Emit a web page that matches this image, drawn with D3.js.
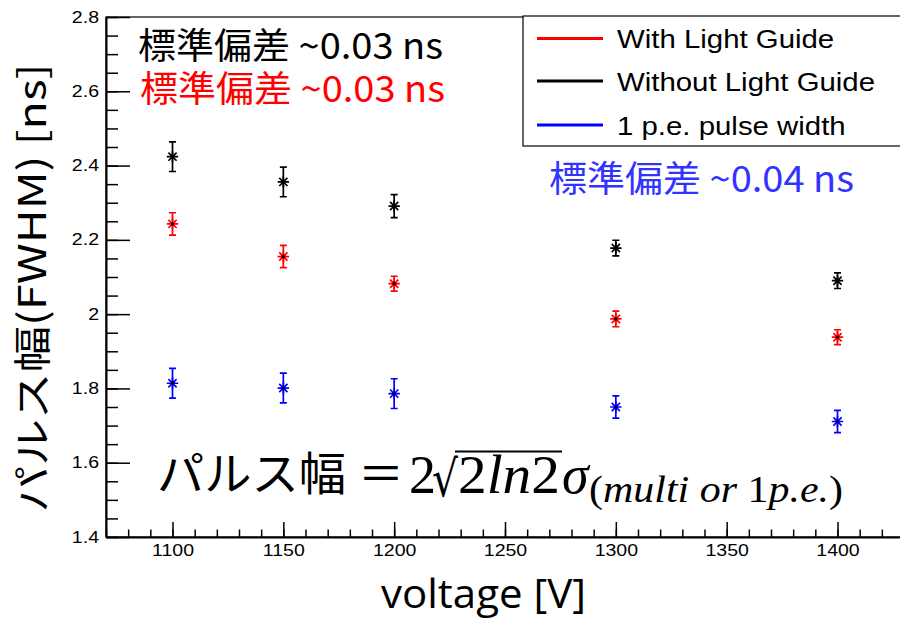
<!DOCTYPE html>
<html>
<head>
<meta charset="utf-8">
<script src="https://cdn.jsdelivr.net/npm/d3@7"></script>
<style>
  body { margin: 0; background: #fff; }
  svg { display: block; }
</style>
</head>
<body>
<div id="chart"></div>
<script>
// values
const voltages = [1100, 1150, 1200, 1300, 1400];
const withGuide = [2.243, 2.155, 2.082, 1.987, 1.938];
const withGuideErr = [0.030, 0.030, 0.020, 0.021, 0.020];
const withoutGuide = [2.424, 2.356, 2.291, 2.178, 2.090];
const withoutGuideErr = [0.040, 0.040, 0.031, 0.021, 0.021];
const onePe = [1.814, 1.801, 1.786, 1.750, 1.711];
const onePeErr = [0.040, 0.040, 0.040, 0.030, 0.030];

const seriesNames = ["With Light Guide", "Without Light Guide", "1 p.e. pulse width"];
const seriesColors = ["#ff0000", "#000000", "#0000ff"];

const yMajorTicks = [1.4, 1.6, 1.8, 2.0, 2.2, 2.4, 2.6, 2.8];
const xMajorTicks = [1100, 1150, 1200, 1250, 1300, 1350, 1400];

const width = 900, height = 620;
const margin = { left: 106, top: 17, bottom: 83 };

const svg = d3.select("#chart").append("svg")
  .attr("width", width)
  .attr("height", height);

const x = d3.scaleLinear().domain([1070, 1430]).range([margin.left, 904]);
const y = d3.scaleLinear().domain([1.4, 2.8]).range([height - margin.bottom, margin.top]);

// stretch text horizontally like the pasted ROOT canvas
function stretch(sel, k) {
  sel.each(function () {
    const w = this.getComputedTextLength();
    d3.select(this).attr("textLength", w * k).attr("lengthAdjust", "spacingAndGlyphs");
  });
}

// frame
svg.append("rect")
  .attr("x", x(1070)).attr("y", y(2.8))
  .attr("width", x(1430) - x(1070)).attr("height", y(1.4) - y(2.8))
  .attr("fill", "none").attr("stroke", "#000").attr("stroke-width", 1.2);

// minor ticks
svg.append("g")
  .attr("transform", `translate(${margin.left},0)`)
  .call(d3.axisLeft(y).tickValues(d3.range(1.4, 2.8001, 0.05)).tickSize(-12).tickSizeOuter(0).tickFormat(""))
  .call(g => g.selectAll("line").attr("stroke-width", 1.5));

svg.append("g")
  .attr("transform", `translate(0,${y(1.4)})`)
  .call(d3.axisBottom(x).tickValues(d3.range(1070, 1431, 10)).tickSize(-7.5).tickSizeOuter(0).tickFormat(""))
  .call(g => g.selectAll("line").attr("stroke-width", 1.5));

// major ticks + labels
const yAxis = svg.append("g")
  .attr("transform", `translate(${margin.left},0)`)
  .call(d3.axisLeft(y).tickValues(yMajorTicks).tickSizeInner(-24).tickSizeOuter(0).tickPadding(7)
    .tickFormat(d => String(+d.toFixed(1))));
yAxis.select(".domain").attr("stroke-width", 2);
yAxis.selectAll("line").attr("stroke-width", 1.5);
yAxis.selectAll("text").attr("font-family", "Liberation Sans, Arial, sans-serif").attr("font-size", 16).attr("fill", "#000")
  .call(stretch, 1.22);

const xAxis = svg.append("g")
  .attr("transform", `translate(0,${y(1.4)})`)
  .call(d3.axisBottom(x).tickValues(xMajorTicks).tickSizeInner(-15).tickSizeOuter(0).tickPadding(8)
    .tickFormat(d3.format("d")));
xAxis.select(".domain").attr("stroke-width", 2);
xAxis.selectAll("line").attr("stroke-width", 1.5);
xAxis.selectAll("text").attr("font-family", "Liberation Sans, Arial, sans-serif").attr("font-size", 16).attr("fill", "#000")
  .call(stretch, 1.22);

// ROOT style star marker
const star = {
  draw(ctx, size) {
    const r = Math.sqrt(size) / 2, d = r * 0.72;
    ctx.moveTo(-r, 0); ctx.lineTo(r, 0);
    ctx.moveTo(0, -r); ctx.lineTo(0, r);
    ctx.moveTo(-d, -d); ctx.lineTo(d, d);
    ctx.moveTo(-d, d); ctx.lineTo(d, -d);
  }
};

const series = [
  { vals: withGuide, errs: withGuideErr, color: seriesColors[0] },
  { vals: withoutGuide, errs: withoutGuideErr, color: seriesColors[1] },
  { vals: onePe, errs: onePeErr, color: seriesColors[2] }
];

series.forEach(s => {
  const pts = voltages.map((v, i) => ({ v, val: s.vals[i], err: s.errs[i] }));
  const g = svg.append("g").attr("stroke", s.color).attr("stroke-width", 1.7).attr("fill", "none");
  g.selectAll(".bar").data(pts).enter().append("path")
    .attr("d", d => {
      const cx = x(d.v), y0 = y(d.val - d.err), y1 = y(d.val + d.err);
      return `M${cx},${y0}V${y1}M${cx - 3.5},${y0}H${cx + 3.5}M${cx - 3.5},${y1}H${cx + 3.5}`;
    });
  g.selectAll(".pt").data(pts).enter().append("path")
    .attr("transform", d => `translate(${x(d.v)},${y(d.val)})`)
    .attr("d", d3.symbol().type(star).size(130));
  g.selectAll(".dot").data(pts).enter().append("circle")
    .attr("cx", d => x(d.v)).attr("cy", d => y(d.val)).attr("r", 1.6)
    .attr("fill", "#000").attr("stroke", "none");
});

// legend
const legend = svg.append("g");
legend.append("rect")
  .attr("x", 523).attr("y", 16).attr("width", 400).attr("height", 130)
  .attr("fill", "#fff").attr("stroke", "#000").attr("stroke-width", 1.2);
const legendY = [38.5, 81, 125];
seriesNames.forEach((name, i) => {
  legend.append("line")
    .attr("x1", 537).attr("x2", 603).attr("y1", legendY[i]).attr("y2", legendY[i])
    .attr("stroke", seriesColors[i]).attr("stroke-width", 3);
  legend.append("text")
    .attr("x", 617).attr("y", legendY[i] + 9.5)
    .attr("font-family", "Liberation Sans, Arial, sans-serif").attr("font-size", 26)
    .text(name)
    .call(stretch, 1.13);
});

// annotations
const jp = "'Noto Sans CJK JP', sans-serif";
const notes = [
  { text: "標準偏差 ~0.03 ns", x: 138, y: 59, color: "#000" },
  { text: "標準偏差 ~0.03 ns", x: 140, y: 102, color: "#ff0000" },
  { text: "標準偏差 ~0.04 ns", x: 549, y: 192, color: "#3333ff" }
];
notes.forEach(n => {
  svg.append("text")
    .attr("x", n.x).attr("y", n.y)
    .attr("font-family", jp).attr("font-size", 36).attr("fill", n.color)
    .attr("textLength", 305).attr("lengthAdjust", "spacingAndGlyphs")
    .text(n.text);
});

// formula
const serif = "'Liberation Serif', 'DejaVu Serif', serif";
svg.append("text")
  .attr("x", 157).attr("y", 490)
  .attr("font-family", jp).attr("font-size", 46)
  .attr("textLength", 189).attr("lengthAdjust", "spacingAndGlyphs")
  .text("パルス幅");
svg.append("text")
  .attr("x", 381).attr("y", 490).attr("text-anchor", "middle")
  .attr("font-family", jp).attr("font-size", 46)
  .text("＝");
svg.append("text")
  .attr("x", 409).attr("y", 493)
  .attr("font-family", serif).attr("font-size", 54)
  .text("2");
svg.append("text")
  .attr("x", 432).attr("y", 496)
  .attr("font-family", "'DejaVu Serif', serif").attr("font-size", 50)
  .attr("textLength", 26).attr("lengthAdjust", "spacingAndGlyphs")
  .text("√");
svg.append("line")
  .attr("x1", 455).attr("x2", 562).attr("y1", 451.5).attr("y2", 451.5)
  .attr("stroke", "#000").attr("stroke-width", 2.2);
const rad = svg.append("text")
  .attr("x", 458).attr("y", 493)
  .attr("font-family", serif).attr("font-size", 54)
  .attr("textLength", 102).attr("lengthAdjust", "spacingAndGlyphs");
rad.append("tspan").text("2");
rad.append("tspan").attr("font-style", "italic").text("ln");
rad.append("tspan").text("2");
svg.append("text")
  .attr("x", 562).attr("y", 493)
  .attr("font-family", serif).attr("font-size", 54).attr("font-style", "italic")
  .text("σ");
const sub = svg.append("text")
  .attr("x", 589).attr("y", 502)
  .attr("font-family", serif).attr("font-size", 38)
  .attr("textLength", 254).attr("lengthAdjust", "spacingAndGlyphs");
sub.append("tspan").text("(");
sub.append("tspan").attr("font-style", "italic").text("multi or ");
sub.append("tspan").text("1");
sub.append("tspan").attr("font-style", "italic").text("p.e.");
sub.append("tspan").text(")");

// axis titles
svg.append("text")
  .attr("transform", "translate(46,288) rotate(-90)")
  .attr("text-anchor", "middle")
  .attr("font-family", jp).attr("font-size", 38)
  .attr("textLength", 449).attr("lengthAdjust", "spacingAndGlyphs")
  .text("パルス幅(FWHM) [ns]");

svg.append("text")
  .attr("x", 381).attr("y", 608)
  .attr("font-family", "'Open Sans', Lato, sans-serif").attr("font-size", 41)
  .attr("textLength", 205).attr("lengthAdjust", "spacingAndGlyphs")
  .text("voltage [V]");
</script>
</body>
</html>
